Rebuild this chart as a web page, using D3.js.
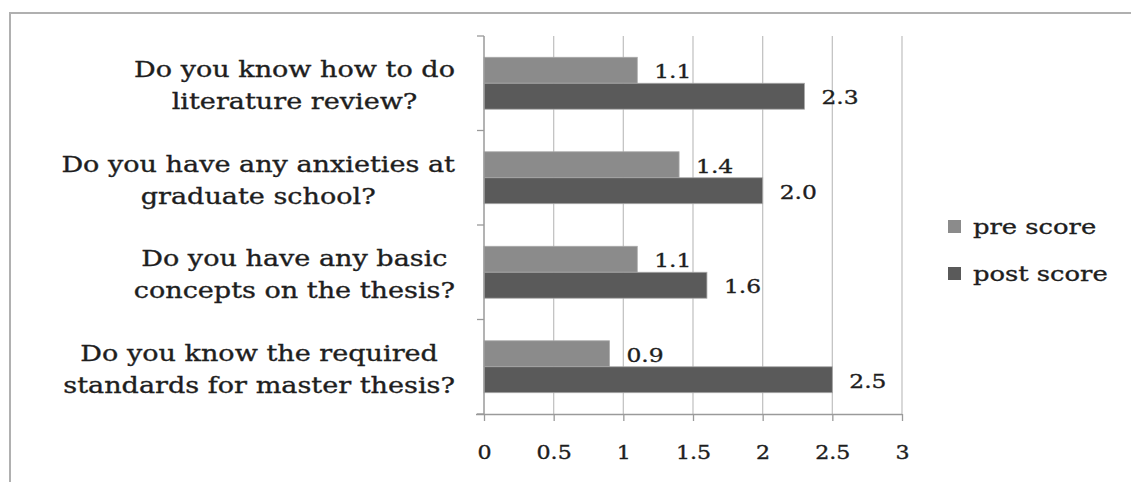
<!DOCTYPE html>
<html>
<head>
<meta charset="utf-8">
<script src="https://cdn.jsdelivr.net/npm/d3@7"></script>
<style>
  body { margin: 0; background: #fff; }
  text { font-family: "DejaVu Serif", serif; fill: #1e1e1e; stroke: #1e1e1e; stroke-width: 0.35px; }
</style>
</head>
<body>
<div id="chart"></div>
<script>
// Data
var categories = [
  "Do you know how to do\nliterature review?",
  "Do you have any anxieties at\ngraduate school?",
  "Do you have any basic\nconcepts on the thesis?",
  "Do you know the required\nstandards for master thesis?"
]
var preScore = [1.1, 1.4, 1.1, 0.9]
var postScore = [2.3, 2.0, 1.6, 2.5]
var seriesNames = ["pre score", "post score"]
var xTicks = [0, 0.5, 1, 1.5, 2, 2.5, 3]

var W = 1131, H = 482
var stretch = 1.23   // the source font is wide, stretch DejaVu Serif to match
var colors = d3.scaleOrdinal().domain(seriesNames).range(["#8b8b8b", "#5a5a5a"])

var svg = d3.select("#chart").append("svg")
  .attr("width", W).attr("height", H)

// outer frame (only the top and left edges show)
svg.append("rect")
  .attr("x", 10).attr("y", 13)
  .attr("width", 1200).attr("height", 600)
  .attr("fill", "none").attr("stroke", "#b0b0b0").attr("stroke-width", 2)

// scales
var xScale = d3.scaleLinear().domain([0, 3]).range([484, 902])
var yScale = d3.scaleBand().domain(categories).range([36, 414])
var ySub = d3.scaleBand().domain(seriesNames).range([0, yScale.bandwidth()]).paddingOuter(0.82)

var plotTop = yScale.range()[0], plotBottom = yScale.range()[1]

// helper: place stretched text so that its anchor point stays at x
function stretchText(sel, x, anchor) {
  sel.each(function() {
    var t = d3.select(this)
    var w = this.getComputedTextLength()
    var left = anchor === "start" ? x : x - w * stretch / 2
    t.attr("x", 0).attr("text-anchor", "start")
      .attr("transform", "translate(" + left + ",0) scale(" + stretch + ",1)")
  })
}

// gridlines
svg.append("g").selectAll("line")
  .data(xTicks.filter(d => d > 0))
  .enter().append("line")
  .attr("x1", d => xScale(d)).attr("x2", d => xScale(d))
  .attr("y1", plotTop).attr("y2", plotBottom)
  .attr("stroke", "#c4c4c4").attr("stroke-width", 1.3)

// bars
var rows = categories.map((c, i) => ({
  cat: c,
  vals: [{s: seriesNames[0], v: preScore[i]}, {s: seriesNames[1], v: postScore[i]}]
}))

var group = svg.selectAll(".row")
  .data(rows)
  .enter().append("g")
  .attr("class", "row")
  .attr("transform", d => "translate(0," + yScale(d.cat) + ")")

group.selectAll("rect")
  .data(d => d.vals)
  .enter().append("rect")
  .attr("x", xScale(0))
  .attr("y", d => ySub(d.s))
  .attr("width", d => xScale(d.v) - xScale(0))
  .attr("height", ySub.bandwidth())
  .attr("fill", d => colors(d.s))
  .attr("stroke", "#a8a8a8").attr("stroke-width", 0.8)

group.selectAll(".val")
  .data(d => d.vals)
  .enter().append("text")
  .attr("class", "val")
  .attr("y", d => ySub(d.s) + ySub.bandwidth() / 2 + 3)
  .attr("dominant-baseline", "middle")
  .style("font-size", "19px")
  .text(d => d.v.toFixed(1))
  .each(function(d) { stretchText(d3.select(this), xScale(d.v) + 17, "start") })

// x axis
var xAxis = svg.append("g")
  .attr("transform", "translate(0," + plotBottom + ")")
  .call(d3.axisBottom(xScale).tickValues(xTicks).tickSizeInner(7).tickSizeOuter(0).tickPadding(25)
    .tickFormat(d3.format("")))
xAxis.select(".domain").attr("stroke", "#9a9a9a").attr("stroke-width", 1.5)
  .attr("d", "M" + (xScale(0) - 8) + ",0.5H" + xScale(3))
xAxis.selectAll(".tick line").attr("stroke", "#9a9a9a").attr("stroke-width", 1.3)
xAxis.selectAll(".tick text")
  .style("font-family", "DejaVu Serif, serif").style("font-size", "18px")
  .attr("fill", "#333").attr("stroke", "#333")
  .each(function() { stretchText(d3.select(this), 0, "middle") })

// y axis line with ticks at band boundaries
var yAxis = svg.append("g")
yAxis.append("line")
  .attr("x1", xScale(0)).attr("x2", xScale(0))
  .attr("y1", plotTop).attr("y2", plotBottom)
  .attr("stroke", "#9a9a9a").attr("stroke-width", 1.5)
var bounds = categories.map(c => yScale(c)).concat([plotBottom])
yAxis.selectAll(".yt")
  .data(bounds)
  .enter().append("line")
  .attr("class", "yt")
  .attr("x1", xScale(0) - 7).attr("x2", xScale(0))
  .attr("y1", d => d).attr("y2", d => d)
  .attr("stroke", "#9a9a9a").attr("stroke-width", 1.3)

// category labels: block right aligned, lines centred
var labelRight = 455
var labels = svg.selectAll(".cat")
  .data(categories)
  .enter().append("text")
  .attr("class", "cat")
  .style("font-size", "22px")
  .attr("text-anchor", "middle")

labels.each(function(c) {
  var t = d3.select(this)
  var lines = c.split("\n")
  var mid = yScale(c) + yScale.bandwidth() / 2
  lines.forEach((ln, i) => {
    t.append("tspan")
      .attr("x", 0)
      .attr("y", mid + (i - (lines.length - 1) / 2) * 32 + 10)
      .text(ln)
  })
  var w = 0
  t.selectAll("tspan").each(function() { w = Math.max(w, this.getComputedTextLength()) })
  t.attr("transform", "translate(" + (labelRight - w * stretch / 2) + ",0) scale(" + stretch + ",1)")
})

// legend
var legend = svg.append("g").attr("class", "legend")
legend.selectAll("rect")
  .data(seriesNames)
  .enter().append("rect")
  .attr("x", 948)
  .attr("y", (d, i) => 220 + i * 47)
  .attr("width", 13).attr("height", 13)
  .attr("fill", d => colors(d))

legend.selectAll("text")
  .data(seriesNames)
  .enter().append("text")
  .attr("y", (d, i) => 228 + i * 47)
  .attr("dominant-baseline", "middle")
  .style("font-size", "21px")
  .text(d => d)
  .each(function() { stretchText(d3.select(this), 973, "start") })
</script>
</body>
</html>
